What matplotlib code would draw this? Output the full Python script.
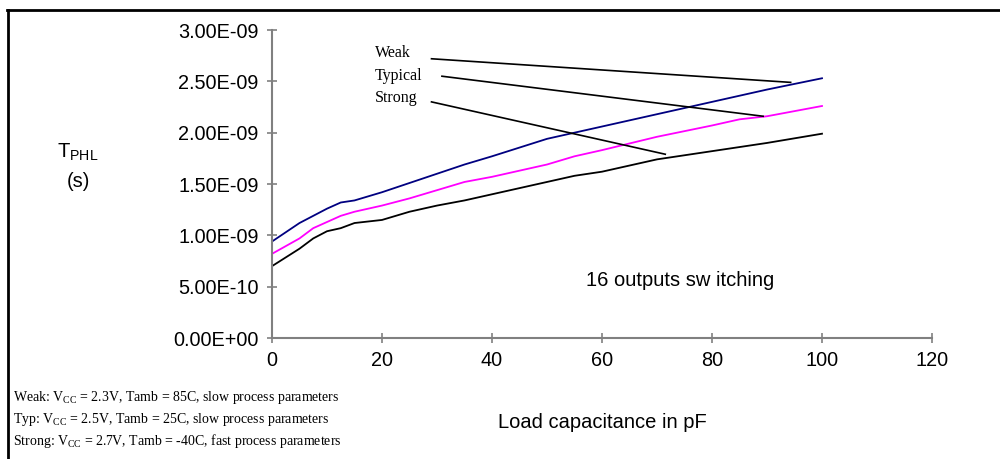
import matplotlib
matplotlib.use("Agg")
import matplotlib.pyplot as plt
from matplotlib.lines import Line2D

plt.rcParams['font.family'] = ['Liberation Sans', 'DejaVu Sans']
plt.rcParams['mathtext.fontset'] = 'custom'
plt.rcParams['mathtext.rm'] = 'Liberation Serif'
plt.rcParams['mathtext.it'] = 'Liberation Serif:italic'

# load capacitance (pF)
load_pf = [0, 5, 7.5, 10, 12.5, 15, 20, 25, 30, 35, 40, 50, 55, 60, 70, 80, 85, 90, 100]
# propagation delay (ns)
weak = [0.94, 1.12, 1.19, 1.26, 1.32, 1.34, 1.42, 1.51, 1.60, 1.69, 1.77, 1.94, 2.00, 2.06, 2.18, 2.30, 2.36, 2.42, 2.53]
typical = [0.82, 0.97, 1.07, 1.13, 1.19, 1.23, 1.29, 1.36, 1.44, 1.52, 1.57, 1.69, 1.77, 1.83, 1.96, 2.07, 2.13, 2.16, 2.26]
strong = [0.70, 0.87, 0.97, 1.04, 1.07, 1.12, 1.15, 1.23, 1.29, 1.34, 1.40, 1.52, 1.58, 1.62, 1.74, 1.82, 1.86, 1.90, 1.99]

x_ticks = [0, 20, 40, 60, 80, 100, 120]
y_ticks = [0, 0.5e-9, 1.0e-9, 1.5e-9, 2.0e-9, 2.5e-9, 3.0e-9]
y_tick_labels = ["0.00E+00", "5.00E-10", "1.00E-09", "1.50E-09", "2.00E-09", "2.50E-09", "3.00E-09"]

notes = [
    r"Weak: V$_{\rm CC}$ = 2.3V, Tamb = 85C, slow process parameters",
    r"Typ: V$_{\rm CC}$ = 2.5V, Tamb = 25C, slow process parameters",
    r"Strong: V$_{\rm CC}$ = 2.7V, Tamb = -40C, fast process parameters",
]

fig = plt.figure(figsize=(10, 4.59), dpi=100)
ax = fig.add_axes([0.272, 0.2636, 0.66, 0.671])

ns = 1e-9
ax.plot(load_pf, [v * ns for v in weak], color='#000080', lw=1.3)
ax.plot(load_pf, [v * ns for v in typical], color='#ff00ff', lw=1.3)
ax.plot(load_pf, [v * ns for v in strong], color='black', lw=1.3)

ax.set_xlim(0, 120)
ax.set_ylim(0, 3e-9)
ax.set_xticks(x_ticks)
ax.set_yticks(y_ticks)
ax.set_yticklabels(y_tick_labels)
for s in ['top', 'right']:
    ax.spines[s].set_visible(False)
for s in ['left', 'bottom']:
    ax.spines[s].set_color('#808080')
    ax.spines[s].set_linewidth(1.5)
ax.tick_params(direction='inout', length=7, width=1.2, color='#808080',
               labelsize=14.3, pad=6)

# callout labels
serif = 'Liberation Serif'
ax.text(18.7, 2.78e-9, "Weak", family=serif, fontsize=11.5, va='center')
ax.text(18.7, 2.55e-9, "Typical", family=serif, fontsize=11.5, va='center')
ax.text(18.7, 2.34e-9, "Strong", family=serif, fontsize=11.5, va='center')
ax.plot([29.0, 94.3], [2.72e-9, 2.49e-9], color='black', lw=1.2)
ax.plot([30.9, 89.3], [2.55e-9, 2.16e-9], color='black', lw=1.2)
ax.plot([29.0, 71.5], [2.30e-9, 1.79e-9], color='black', lw=1.2)

ax.text(74.2, 0.565e-9, "16 outputs sw itching", fontsize=14.5, ha='center', va='center')

# y label
fig.text(0.078, 0.670, r"T$_{\mathregular{PHL}}$", fontsize=14.5, ha='center', va='center')
fig.text(0.078, 0.605, "(s)", fontsize=14.5, ha='center', va='center')
fig.text(0.602, 1 - 423 / 459, "Load capacitance in pF", fontsize=14.5, ha='center', va='center')

for i, note in enumerate(notes):
    fig.text(0.013, 1 - (398 + 21.5 * i) / 459, note, family=serif, fontsize=10,
             va='center')

# border lines (left and top)
fig.add_artist(Line2D([0.008, 0.008], [0, 1 - 10 / 459], color='black', lw=2,
                      transform=fig.transFigure))
fig.add_artist(Line2D([0.007, 1.0], [1 - 10 / 459, 1 - 10 / 459], color='black', lw=2,
                      transform=fig.transFigure))

fig.savefig("out.png", dpi=100)
